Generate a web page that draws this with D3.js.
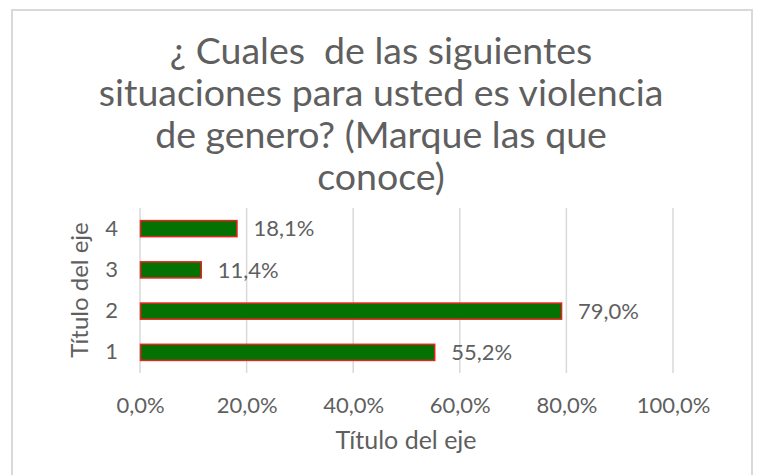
<!DOCTYPE html>
<html><head><meta charset="utf-8">
<script src="https://cdn.jsdelivr.net/npm/d3@7"></script>
<style>body{margin:0;background:#fff;} text{font-family:Lato,"Open Sans",sans-serif;}</style>
</head><body>
<svg id="c" width="758" height="475"></svg>
<script>
const titleLines = ["¿ Cuales  de las siguientes","situaciones para usted es violencia","de genero? (Marque las que","conoce)"];
const categories = ["1","2","3","4"];
const values = [55.2, 79.0, 11.4, 18.1];
const valueLabels = ["55,2%","79,0%","11,4%","18,1%"];
const xTicks = [0,20,40,60,80,100];
const xTickLabels = ["0,0%","20,0%","40,0%","60,0%","80,0%","100,0%"];
const xAxisTitle = "Título del eje";
const yAxisTitle = "Título del eje";

const svg = d3.select("#c");
const txt = "#5f5f5f";
svg.append("rect").attr("x",12).attr("y",10).attr("width",740).attr("height",480)
  .attr("fill","#fff").attr("stroke","#d9d9d9").attr("stroke-width",2);

const title = svg.append("text").attr("text-anchor","middle").attr("fill",txt).attr("font-size",37.5)
  .style("white-space","pre");
titleLines.forEach((t,i)=>title.append("tspan").attr("x",381).attr("y",64+i*42).text(t));

const x = d3.scaleLinear().domain([0,100]).range([140,673]);
const y = d3.scaleBand().domain(categories.slice().reverse()).range([208,373]).paddingInner(0.61).paddingOuter(0.305);

svg.append("g").selectAll("line").data(xTicks).join("line")
  .attr("x1",d=>x(d)).attr("x2",d=>x(d)).attr("y1",208).attr("y2",373)
  .attr("stroke","#d9d9d9").attr("stroke-width",1.5);

const xa = d3.axisBottom(x).tickValues(xTicks).tickFormat((d,i)=>xTickLabels[i]).tickSize(0).tickPadding(0);
const gx = svg.append("g").attr("transform","translate(0,405)").call(xa);
gx.select(".domain").remove();
gx.selectAll("text").attr("fill",txt).attr("font-size",22).attr("dy","0.35em").attr("y",0)
  .attr("font-family","Lato");

const ya = d3.axisLeft(y).tickSize(0).tickPadding(0);
const gy = svg.append("g").attr("transform","translate(118,0)").call(ya);
gy.select(".domain").remove();
gy.selectAll("text").attr("fill",txt).attr("font-size",22).attr("font-family","Lato");

const data = categories.map((c,i)=>({c,v:values[i],l:valueLabels[i]}));
svg.append("g").selectAll("rect").data(data).join("rect")
  .attr("x",x(0)+0.5).attr("y",d=>y(d.c)).attr("width",d=>x(d.v)-x(0)).attr("height",y.bandwidth())
  .attr("fill","#037203").attr("stroke","#e8231f").attr("stroke-width",1.5);

svg.append("g").selectAll("text").data(data).join("text")
  .attr("x",d=>x(d.v)+17).attr("y",d=>y(d.c)+y.bandwidth()/2).attr("dy","0.35em")
  .attr("fill",txt).attr("font-size",22).text(d=>d.l);

svg.append("text").attr("x",406).attr("y",440).attr("dy","0.35em").attr("text-anchor","middle")
  .attr("fill",txt).attr("font-size",25).text(xAxisTitle);
svg.append("text").attr("transform","translate(80,290) rotate(-90)").attr("dy","0.35em").attr("text-anchor","middle")
  .attr("fill",txt).attr("font-size",24).text(yAxisTitle);
</script>
</body></html>
